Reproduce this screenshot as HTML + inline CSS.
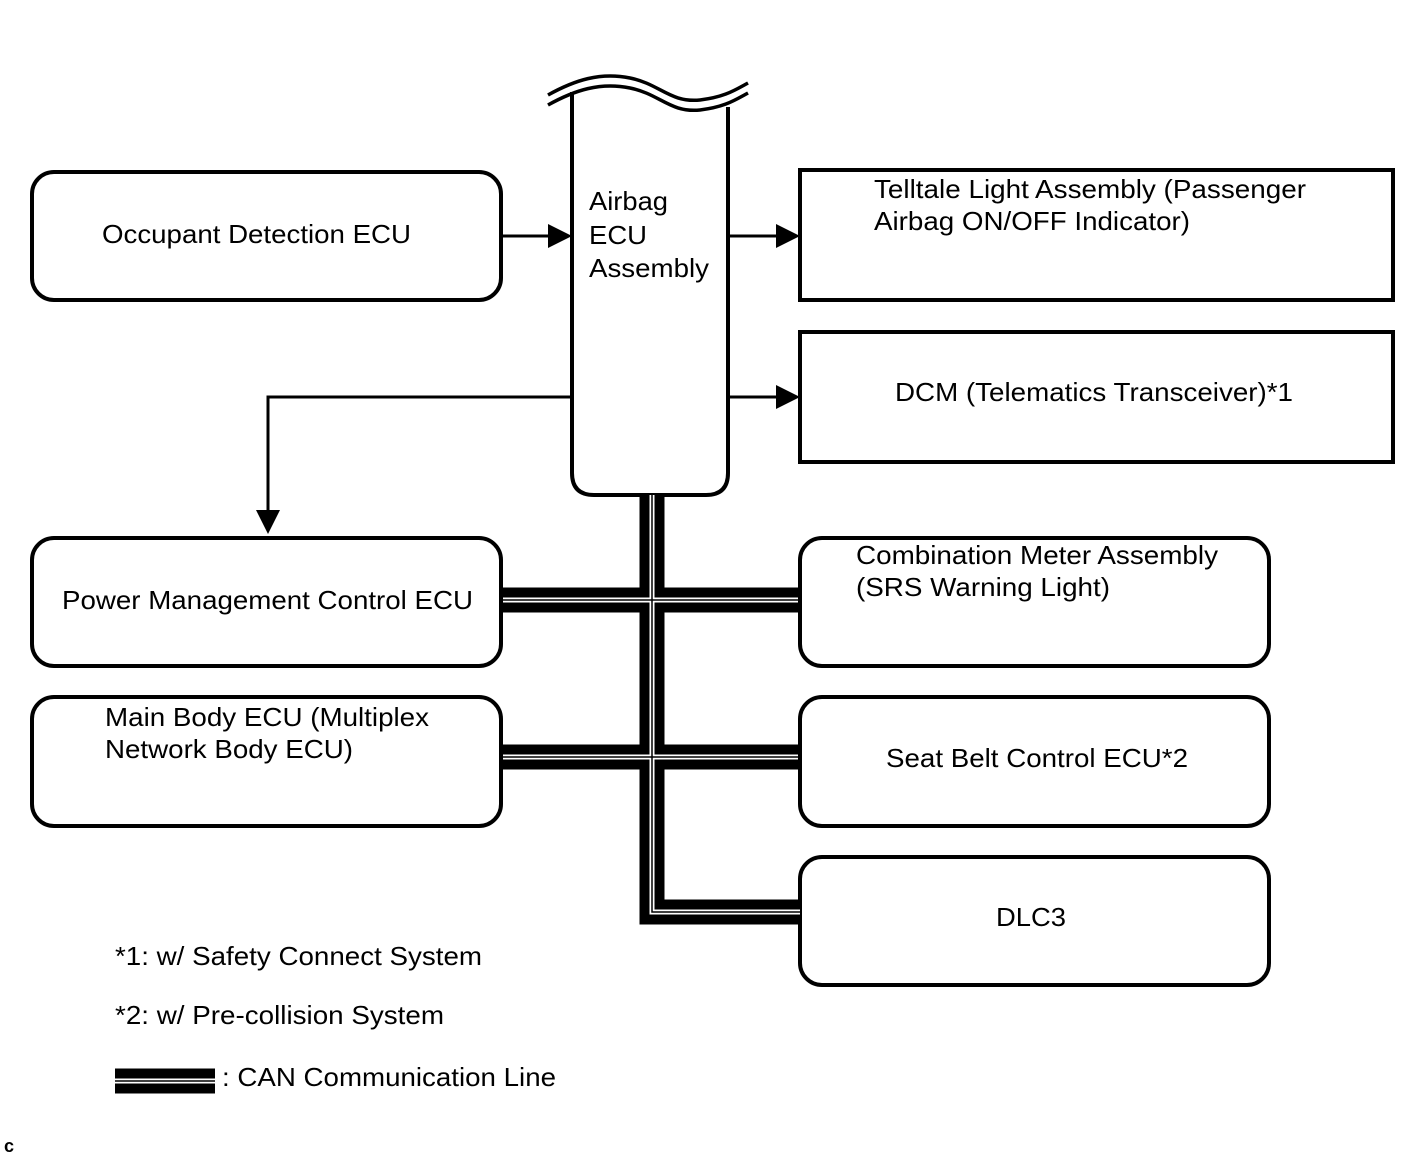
<!DOCTYPE html>
<html><head><meta charset="utf-8"><style>
html,body{margin:0;padding:0;background:#fff;}
svg{display:block;}
text{font-family:"Liberation Sans",sans-serif;font-size:26px;fill:#000;}
</style></head><body>
<svg width="1421" height="1157" viewBox="0 0 1421 1157" xmlns="http://www.w3.org/2000/svg">
<g fill="none" stroke="#000" stroke-width="4">
<rect x="32" y="172" width="469" height="128" rx="22"/>
<rect x="800" y="170" width="593" height="130"/>
<rect x="800" y="332" width="593" height="130"/>
<rect x="32" y="538" width="469" height="128" rx="22"/>
<rect x="800" y="538" width="469" height="128" rx="22"/>
<rect x="32" y="697" width="469" height="129" rx="22"/>
<rect x="800" y="697" width="469" height="129" rx="22"/>
<rect x="800" y="857" width="469" height="128" rx="22"/>
<path d="M572 92 L572 473 Q572 495 594 495 L706 495 Q728 495 728 473 L728 107"/>
<path d="M548 95 C575 80 600 72 630 78 C660 84 670 103 700 100 C725 97 735 90 748 83" stroke-width="3.5"/>
<path d="M548 105 C575 90 600 82 630 88 C660 94 670 113 700 110 C725 107 735 100 748 93" stroke-width="3.5"/>
</g>
<g stroke="#000" stroke-width="3" fill="none">
<line x1="501" y1="236" x2="550" y2="236"/>
<line x1="728" y1="236" x2="780" y2="236"/>
<line x1="728" y1="397" x2="780" y2="397"/>
<polyline points="570,397 268,397 268,512"/>
</g>
<g fill="#000">
<polygon points="548,224 572,236 548,248"/>
<polygon points="776,224 800,236 776,248"/>
<polygon points="776,385 800,397 776,409"/>
<polygon points="256,510 268,534 280,510"/>
</g>
<g fill="none" stroke-linejoin="miter" stroke-linecap="butt">
<g stroke="#000" stroke-width="25">
<polyline points="652,495 652,912 800,912"/>
<line x1="501" y1="600" x2="800" y2="600"/>
<line x1="501" y1="757" x2="800" y2="757"/>
</g>
<g stroke="#fff" stroke-width="5">
<polyline points="652,495 652,912 800,912"/>
<line x1="503" y1="600" x2="798" y2="600"/>
<line x1="503" y1="757" x2="798" y2="757"/>
</g>
<g stroke="#000" stroke-width="1.5">
<polyline points="652,495 652,912 800,912"/>
<line x1="503" y1="600" x2="798" y2="600"/>
<line x1="503" y1="757" x2="798" y2="757"/>
</g>
<line x1="115" y1="1081" x2="215" y2="1081" stroke="#000" stroke-width="25"/>
<line x1="115" y1="1081" x2="215" y2="1081" stroke="#fff" stroke-width="5"/>
<line x1="115" y1="1081" x2="215" y2="1081" stroke="#000" stroke-width="1.5"/>
</g>
<g lengthAdjust="spacingAndGlyphs">
<text x="102" y="243" textLength="309" lengthAdjust="spacingAndGlyphs">Occupant Detection ECU</text>
<text x="589" y="210" textLength="79" lengthAdjust="spacingAndGlyphs">Airbag</text>
<text x="589" y="244" textLength="58" lengthAdjust="spacingAndGlyphs">ECU</text>
<text x="589" y="277" textLength="120" lengthAdjust="spacingAndGlyphs">Assembly</text>
<text x="874" y="198" textLength="432" lengthAdjust="spacingAndGlyphs">Telltale Light Assembly (Passenger</text>
<text x="874" y="230" textLength="316" lengthAdjust="spacingAndGlyphs">Airbag ON/OFF Indicator)</text>
<text x="895" y="401" textLength="398" lengthAdjust="spacingAndGlyphs">DCM (Telematics Transceiver)*1</text>
<text x="62" y="609" textLength="411" lengthAdjust="spacingAndGlyphs">Power Management Control ECU</text>
<text x="856" y="564" textLength="362" lengthAdjust="spacingAndGlyphs">Combination Meter Assembly</text>
<text x="856" y="596" textLength="254" lengthAdjust="spacingAndGlyphs">(SRS Warning Light)</text>
<text x="105" y="726" textLength="324" lengthAdjust="spacingAndGlyphs">Main Body ECU (Multiplex</text>
<text x="105" y="758" textLength="248" lengthAdjust="spacingAndGlyphs">Network Body ECU)</text>
<text x="886" y="767" textLength="302" lengthAdjust="spacingAndGlyphs">Seat Belt Control ECU*2</text>
<text x="996" y="926" textLength="70" lengthAdjust="spacingAndGlyphs">DLC3</text>
<text x="115" y="965" textLength="367" lengthAdjust="spacingAndGlyphs">*1: w/ Safety Connect System</text>
<text x="115" y="1024" textLength="329" lengthAdjust="spacingAndGlyphs">*2: w/ Pre-collision System</text>
<text x="222" y="1086" textLength="334" lengthAdjust="spacingAndGlyphs">: CAN Communication Line</text>
</g>
<text x="4" y="1152" style="font-size:18px;font-weight:bold">c</text>
</svg>
</body></html>
